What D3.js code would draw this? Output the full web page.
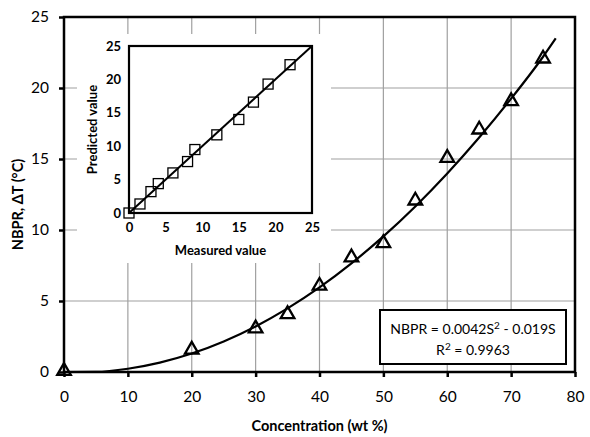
<!DOCTYPE html>
<html>
<head>
<meta charset="utf-8">
<script src="https://cdn.jsdelivr.net/npm/d3@7"></script>
<style>
  html, body { margin: 0; padding: 0; background: #fff; }
  svg { display: block; font-family: Lato, "Open Sans", sans-serif; }
</style>
</head>
<body>
<div id="chart"></div>
<script>
// measured points: concentration (wt %) vs NBPR dT
const concentration = [0, 20, 30, 35, 40, 45, 50, 55, 60, 65, 70, 75];
const nbpr = [0, 1.5, 3, 4, 6, 8, 9, 12, 15, 17, 19, 22];

// fitted trend line
const fitX = [0, 5, 10, 15, 20, 25, 30, 35, 40, 45, 50, 55, 60, 65, 70, 75, 77];
const fitY = [0, 0.01, 0.23, 0.66, 1.3, 2.15, 3.21, 4.48, 5.96, 7.65, 9.55, 11.66, 13.98, 16.51, 19.25, 22.2, 23.5];

// inset: measured vs predicted
const measured = [0, 1.5, 3, 4, 6, 8, 9, 12, 15, 17, 19, 22];
const predicted = [0, 1.35, 3.2, 4.4, 6.0, 7.7, 9.5, 11.7, 14.0, 16.6, 19.3, 22.2];
const parityLine = [0, 25];

const xTicks = [0, 10, 20, 30, 40, 50, 60, 70, 80];
const yTicks = [0, 5, 10, 15, 20, 25];
const insetTicks = [0, 5, 10, 15, 20, 25];

const W = 590, H = 437;

const svg = d3.select('#chart').append('svg')
  .attr('width', W)
  .attr('height', H);

const x = d3.scaleLinear().domain([0, 80]).range([64, 575]);
const y = d3.scaleLinear().domain([0, 25]).range([372, 17]);

// grid
svg.append('g')
  .selectAll('line.vg')
  .data(xTicks.slice(1, -1))
  .join('line')
    .attr('x1', d => x(d)).attr('x2', d => x(d))
    .attr('y1', y(25)).attr('y2', y(0))
    .attr('stroke', '#a0a0a0')
    .attr('stroke-width', 1.2);

svg.append('g')
  .selectAll('line.hg')
  .data(yTicks.slice(1, -1))
  .join('line')
    .attr('x1', x(0)).attr('x2', x(80))
    .attr('y1', d => y(d)).attr('y2', d => y(d))
    .attr('stroke', '#a0a0a0')
    .attr('stroke-width', 1.2);

// white background behind the inset
svg.append('rect')
  .attr('x', 77).attr('y', 34)
  .attr('width', 254).attr('height', 229)
  .attr('fill', '#fff');

// main axes
const xAxis = svg.append('g')
  .attr('transform', `translate(0,${y(0)})`)
  .call(d3.axisBottom(x).tickValues(xTicks).tickSize(5).tickPadding(14));
const yAxis = svg.append('g')
  .attr('transform', `translate(${x(0)},0)`)
  .call(d3.axisLeft(y).tickValues(yTicks).tickSize(5).tickPadding(10));

[xAxis, yAxis].forEach((ax) => {
  ax.select('.domain').remove();
  ax.selectAll('line').attr('stroke', '#000').attr('stroke-width', 2.5);
  ax.selectAll('text')
    .attr('fill', '#000')
    .style('font-size', '15.5px')
    .style('font-family', 'Lato, sans-serif');
});

svg.append('rect')
  .attr('x', x(0)).attr('y', y(25))
  .attr('width', x(80) - x(0)).attr('height', y(0) - y(25))
  .attr('fill', 'none')
  .attr('stroke', '#000')
  .attr('stroke-width', 2.5);

// axis titles
svg.append('text')
  .attr('x', (x(0) + x(80)) / 2 - 0)
  .attr('y', 431)
  .attr('text-anchor', 'middle')
  .style('font-size', '14.5px')
  .style('font-weight', 'bold')
  .text('Concentration (wt %)');

svg.append('text')
  .attr('transform', `translate(23,${(y(0) + y(25)) / 2 + 10}) rotate(-90)`)
  .attr('text-anchor', 'middle')
  .style('font-size', '14.5px')
  .style('font-weight', 'bold')
  .text('NBPR, ΔT (°C)');

// trend curve
const fitLine = d3.line()
  .x(d => x(d[0]))
  .y(d => y(d[1]))
  .curve(d3.curveMonotoneX);

svg.append('path')
  .datum(fitX.map((v, i) => [v, fitY[i]]))
  .attr('fill', 'none')
  .attr('stroke', '#000')
  .attr('stroke-width', 2.2)
  .attr('d', fitLine);

// triangles
const tri = d3.symbol().type(d3.symbolTriangle).size(80);
svg.append('g')
  .selectAll('path')
  .data(concentration.map((v, i) => [v, nbpr[i]]))
  .join('path')
    .attr('transform', d => `translate(${x(d[0])},${y(d[1]) - 1})`)
    .attr('d', tri)
    .attr('fill', 'none')
    .attr('stroke', '#000')
    .attr('stroke-width', 2.3);

// equation box
svg.append('rect')
  .attr('x', 380).attr('y', 310)
  .attr('width', 186).attr('height', 54)
  .attr('fill', '#fff')
  .attr('stroke', '#000')
  .attr('stroke-width', 2);

const eq1 = svg.append('text')
  .attr('x', 473).attr('y', 334)
  .attr('text-anchor', 'middle')
  .style('font-size', '14px');
eq1.append('tspan').text('NBPR = 0.0042S');
eq1.append('tspan').attr('dy', -5).style('font-size', '10px').text('2');
eq1.append('tspan').attr('dy', 5).text(' - 0.019S');

const eq2 = svg.append('text')
  .attr('x', 473).attr('y', 355)
  .attr('text-anchor', 'middle')
  .style('font-size', '14px');
eq2.append('tspan').text('R');
eq2.append('tspan').attr('dy', -5).style('font-size', '10px').text('2');
eq2.append('tspan').attr('dy', 5).text(' = 0.9963');

// inset chart
const ix = d3.scaleLinear().domain([0, 25]).range([129, 312]);
const iy = d3.scaleLinear().domain([0, 25]).range([213, 46]);

const ixAxis = svg.append('g')
  .attr('transform', `translate(0,${iy(0)})`)
  .call(d3.axisBottom(ix).tickValues(insetTicks).tickSize(0).tickPadding(10));
const iyAxis = svg.append('g')
  .attr('transform', `translate(${ix(0)},0)`)
  .call(d3.axisLeft(iy).tickValues(insetTicks).tickSize(0).tickPadding(8));

[ixAxis, iyAxis].forEach((ax) => {
  ax.select('.domain').remove();
  ax.selectAll('text')
    .attr('fill', '#000')
    .style('font-size', '13px')
    .style('font-weight', 'bold')
    .style('font-family', 'Lato, sans-serif');
});

svg.append('rect')
  .attr('x', ix(0)).attr('y', iy(25))
  .attr('width', ix(25) - ix(0)).attr('height', iy(0) - iy(25))
  .attr('fill', 'none')
  .attr('stroke', '#000')
  .attr('stroke-width', 2.2);

svg.append('text')
  .attr('x', (ix(0) + ix(25)) / 2)
  .attr('y', 255)
  .attr('text-anchor', 'middle')
  .style('font-size', '13px')
  .style('font-weight', 'bold')
  .text('Measured value');

svg.append('text')
  .attr('transform', `translate(97,${(iy(0) + iy(25)) / 2}) rotate(-90)`)
  .attr('text-anchor', 'middle')
  .style('font-size', '13px')
  .style('font-weight', 'bold')
  .text('Predicted value');

svg.append('line')
  .attr('x1', ix(parityLine[0])).attr('y1', iy(parityLine[0]))
  .attr('x2', ix(parityLine[1])).attr('y2', iy(parityLine[1]))
  .attr('stroke', '#000')
  .attr('stroke-width', 2);

svg.append('g')
  .selectAll('rect')
  .data(measured.map((v, i) => [v, predicted[i]]))
  .join('rect')
    .attr('x', d => ix(d[0]) - 5)
    .attr('y', d => iy(d[1]) - 5)
    .attr('width', 10)
    .attr('height', 10)
    .attr('fill', 'none')
    .attr('stroke', '#000')
    .attr('stroke-width', 1.3);
</script>
</body>
</html>
